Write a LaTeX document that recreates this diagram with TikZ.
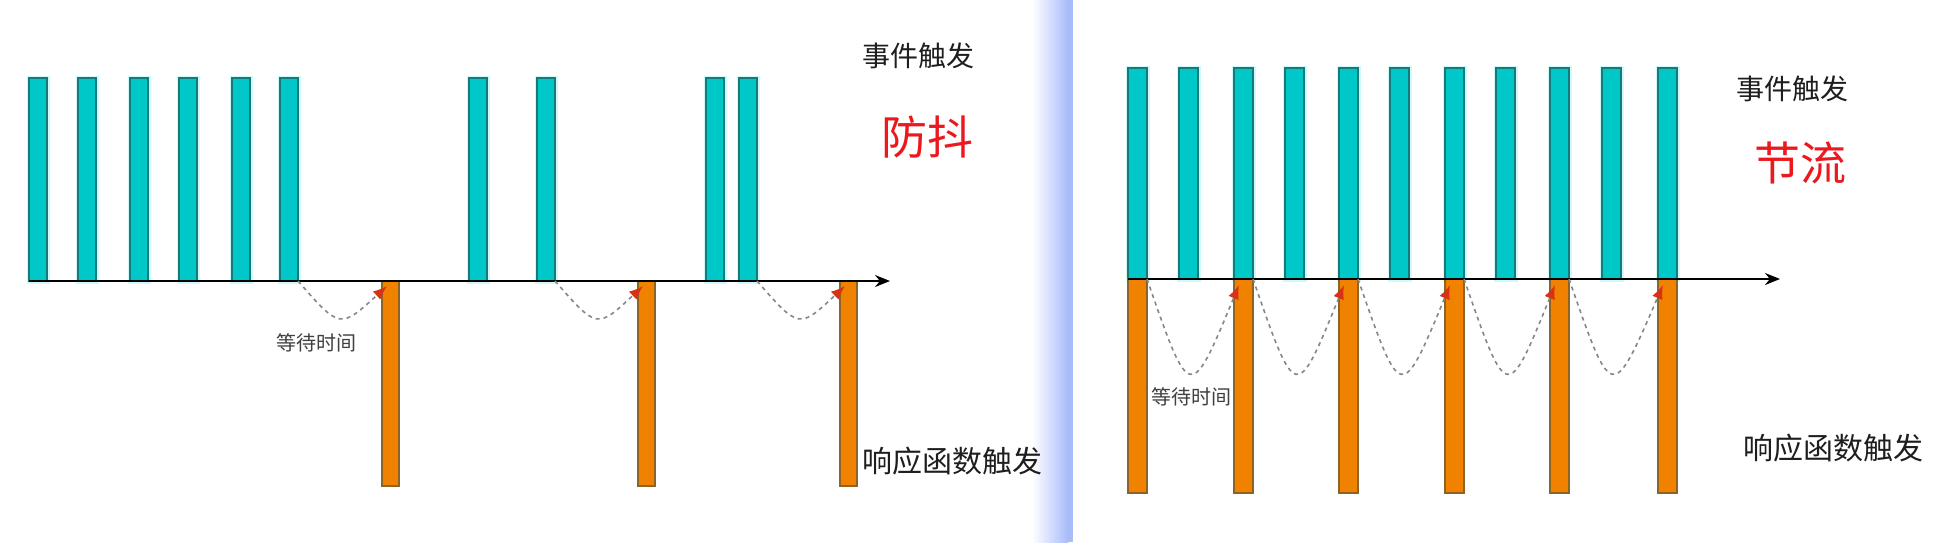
\documentclass[tikz,border=0pt]{standalone}
\usepackage{fontspec}
\setmainfont{Noto Sans CJK SC}
\usetikzlibrary{arrows.meta,calc}
\definecolor{tealfill}{RGB}{0,200,200}
\definecolor{tealline}{RGB}{25,120,120}
\definecolor{tealglow}{RGB}{205,250,250}
\definecolor{orfill}{RGB}{240,130,0}
\definecolor{orline}{RGB}{140,100,40}
\definecolor{arcgray}{RGB}{135,135,135}
\definecolor{tipred}{RGB}{215,50,20}
\definecolor{txtdark}{RGB}{30,30,30}
\definecolor{titlered}{RGB}{235,25,30}
\definecolor{sepblue}{RGB}{168,188,250}
\tikzset{
  tealbar/.style={rectangle, inner sep=0pt, outer sep=0pt, anchor=north west,
    fill=tealfill, draw=tealline, line width=1.2pt,
    preaction={draw=tealglow, line width=5pt}},
  orangebar/.style={rectangle, inner sep=0pt, outer sep=0pt, anchor=north west,
    fill=orfill, draw=orline, line width=1.2pt},
  axisline/.style={draw=black, line width=2pt, -{Stealth[length=15pt,width=12pt]}},
  waitarc/.style={draw=arcgray, line width=1.6pt, dash pattern=on 4pt off 4pt,
    -{Latex[length=14pt,width=11pt,color=tipred]}},
  lbl/.style={inner sep=0pt, text=txtdark, font=\fontsize{28}{32}\selectfont},
  resplbl/.style={inner sep=0pt, text=txtdark, font=\fontsize{30}{34}\selectfont},
  smalllbl/.style={inner sep=0pt, text=txtdark!85, font=\fontsize{20}{24}\selectfont},
  redlbl/.style={inner sep=0pt, text=titlered, font=\fontsize{46}{52}\selectfont}
}
\begin{document}
\begin{tikzpicture}[x=1pt,y=-1pt]
\useasboundingbox (0,0) rectangle (1950,542);
\fill[white] (0,0) rectangle (1950,542);
% separator stripe
\fill[left color=white, right color=sepblue] (1032,0) rectangle (1068,542);
\fill[sepblue] (1068,0) rectangle (1073,542);

% ---------- left panel (debounce) ----------
\foreach \x [count=\i] in {29,78,130,179,232,280,469,537,706,739}
  \node[tealbar, minimum width=18pt, minimum height=203pt] (lt\i) at (\x,78) {};
\foreach \x [count=\i] in {382,638,840}
  \node[orangebar, minimum width=17pt, minimum height=205pt] (lo\i) at (\x,281) {};
\coordinate (laxisend) at (890,281);
\draw[axisline] (lt1.south west) -- (laxisend);
\draw[waitarc] (lt6.south east) .. controls +(42,48) .. ([xshift=5pt,yshift=-5pt]lo1.north west);
\draw[waitarc] (lt8.south east) .. controls +(42,48) .. ([xshift=5pt,yshift=-5pt]lo2.north west);
\draw[waitarc] (lt10.south east) .. controls +(42,48) .. ([xshift=5pt,yshift=-5pt]lo3.north west);
\node[smalllbl] (lwait) at (316,343) {等待时间};
\node[lbl] (levent) at (918,56) {事件触发};
\node[redlbl] (ltitle) at (927,137) {防抖};
\node[resplbl] (lresp) at (952,461) {响应函数触发};

% ---------- right panel (throttle) ----------
\foreach \x [count=\i] in {1128,1179,1234,1285,1339,1390,1445,1496,1550,1602,1658}
  \node[tealbar, minimum width=19pt, minimum height=211pt] (rt\i) at (\x,68) {};
\foreach \x [count=\i] in {1128,1234,1339,1445,1550,1658}
  \node[orangebar, minimum width=19pt, minimum height=214pt] (ro\i) at (\x,279) {};
\coordinate (raxisend) at (1780,279);
\draw[axisline] (rt1.south west) -- (raxisend);
\foreach \a/\b in {1/2,2/3,3/4,4/5,5/6}
  \draw[waitarc] (ro\a.north east) .. controls +(43,124) .. ([xshift=5pt,yshift=-6pt]ro\b.north west);
\node[smalllbl] (rwait) at (1191,397) {等待时间};
\node[lbl] (revent) at (1792,89) {事件触发};
\node[redlbl] (rtitle) at (1800,163) {节流};
\node[resplbl] (rresp) at (1833,448) {响应函数触发};
\end{tikzpicture}
\end{document}
